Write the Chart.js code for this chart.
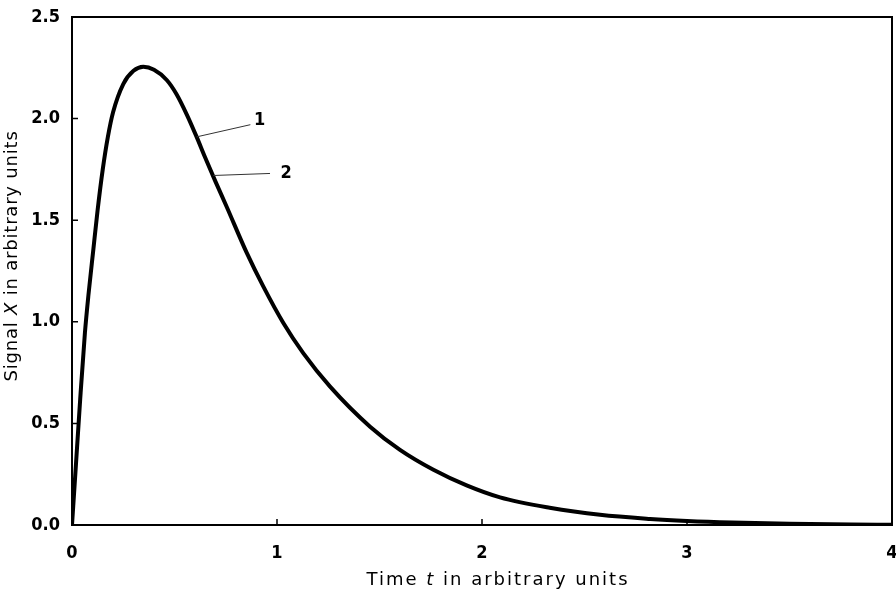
<!DOCTYPE html>
<html>
<head>
<meta charset="utf-8">
<script src="https://cdn.jsdelivr.net/npm/chart.js@4.4.1/dist/chart.umd.min.js"></script>
<style>
  html, body { margin: 0; padding: 0; background: #fff; }
  #wrap { width: 896px; height: 595px; }
</style>
</head>
<body>
<div id="wrap"><canvas id="chart"></canvas></div>
<script>
// Signal X vs time t — curves 1 and 2 (practically coincide)

const timeValues = [0, 0.02, 0.04, 0.063, 0.08, 0.104, 0.125, 0.15, 0.175, 0.2, 0.25, 0.3, 0.348, 0.4, 0.462, 0.51, 0.56, 0.608, 0.649, 0.7, 0.755, 0.852, 0.933, 1.031, 1.128, 1.259, 1.454, 1.6, 1.763, 1.925, 2.088, 2.33, 2.576, 2.82, 3.0, 3.22, 3.5, 3.8, 4.0];
const signalValues = [0, 0.31, 0.62, 0.945, 1.13, 1.355, 1.55, 1.75, 1.91, 2.03, 2.17, 2.235, 2.255, 2.24, 2.19, 2.12, 2.02, 1.91, 1.81, 1.69, 1.565, 1.34, 1.174, 0.994, 0.846, 0.681, 0.484, 0.37, 0.272, 0.195, 0.136, 0.085, 0.05, 0.03, 0.02, 0.012, 0.006, 0.002, 0.001];

const xTicks = [0, 1, 2, 3, 4];
const yTicks = [0, 0.5, 1.0, 1.5, 2.0, 2.5];

// curve labels: text, point on curve, end of leader line, text position (data units)
const curveLabels = ['1', '2'];
const labelAnchors = [[0.608, 1.91], [0.689, 1.72]];
const labelLineEnds = [[0.87, 1.97], [0.966, 1.73]];
const labelTextPos = [[0.915, 1.99], [1.044, 1.73]];

const TICK_FONT = { family: "'DejaVu Sans Condensed', 'DejaVu Sans', sans-serif", size: 18, weight: 'bold' };
const TITLE_FONT = "18px 'DejaVu Sans', sans-serif";

const points = timeValues.map((t, i) => ({ x: t, y: signalValues[i] }));

const frameAndLabels = {
  id: 'frameAndLabels',
  afterDraw(chart) {
    const { ctx, chartArea: a, scales: { x, y } } = chart;
    ctx.save();
    // frame
    ctx.strokeStyle = '#000';
    ctx.lineWidth = 2;
    ctx.strokeRect(a.left, a.top, a.right - a.left, a.bottom - a.top);
    // inward ticks
    ctx.lineWidth = 1.5;
    ctx.beginPath();
    xTicks.forEach(v => {
      const px = x.getPixelForValue(v);
      ctx.moveTo(px, a.bottom); ctx.lineTo(px, a.bottom - 6);
    });
    yTicks.forEach(v => {
      const py = y.getPixelForValue(v);
      ctx.moveTo(a.left, py); ctx.lineTo(a.left + 6, py);
    });
    ctx.stroke();
    // leader lines and curve numbers
    ctx.lineWidth = 1;
    ctx.strokeStyle = '#333';
    ctx.fillStyle = '#000';
    ctx.font = "bold " + TICK_FONT.size + "px " + TICK_FONT.family;
    ctx.textAlign = 'center';
    ctx.textBaseline = 'middle';
    curveLabels.forEach((txt, i) => {
      ctx.beginPath();
      ctx.moveTo(x.getPixelForValue(labelAnchors[i][0]), y.getPixelForValue(labelAnchors[i][1]));
      ctx.lineTo(x.getPixelForValue(labelLineEnds[i][0]), y.getPixelForValue(labelLineEnds[i][1]));
      ctx.stroke();
      ctx.fillText(txt, x.getPixelForValue(labelTextPos[i][0]), y.getPixelForValue(labelTextPos[i][1]));
    });
    // axis titles with italic symbols
    const drawParts = (parts, cx, cy, rot, spacing) => {
      ctx.save();
      ctx.translate(cx, cy);
      ctx.rotate(rot);
      ctx.textAlign = 'left';
      ctx.textBaseline = 'middle';
      ctx.letterSpacing = spacing;
      let total = 0;
      parts.forEach(p => { ctx.font = (p.italic ? 'italic ' : '') + TITLE_FONT; total += ctx.measureText(p.text).width; });
      let pos = -total / 2;
      parts.forEach(p => {
        ctx.font = (p.italic ? 'italic ' : '') + TITLE_FONT;
        ctx.fillText(p.text, pos, 0);
        pos += ctx.measureText(p.text).width;
      });
      ctx.restore();
    };
    drawParts([{ text: 'Time ' }, { text: 't', italic: true }, { text: ' in arbitrary units' }], 498, 580, 0, '2px');
    drawParts([{ text: 'Signal ' }, { text: 'X', italic: true }, { text: ' in arbitrary units' }], 12, 256, -Math.PI / 2, '0.8px');
    ctx.restore();
  }
};

new Chart(document.getElementById('chart'), {
  type: 'line',
  data: {
    datasets: [{
      label: 'Curve 1',
      data: points,
      borderColor: '#000',
      borderWidth: 4,
      pointRadius: 0,
      fill: false,
      cubicInterpolationMode: 'monotone',
    }],
  },
  options: {
    responsive: true,
    maintainAspectRatio: false,
    animation: false,
    layout: { padding: { top: 17, right: 4, left: 0, bottom: 0 } },
    plugins: { legend: { display: false }, tooltip: { enabled: false } },
    scales: {
      x: {
        type: 'linear',
        min: 0, max: 4,
        afterBuildTicks: s => { s.ticks = xTicks.map(v => ({ value: v })); },
        afterFit: s => { s.height = 70; s.paddingLeft = 0; s.paddingRight = 0; },
        grid: { display: false, drawTicks: false },
        border: { display: false },
        ticks: { color: '#000', font: TICK_FONT, padding: 18, maxRotation: 0, callback: v => String(v) },
      },
      y: {
        min: 0, max: 2.5,
        afterBuildTicks: s => { s.ticks = yTicks.map(v => ({ value: v })); },
        afterFit: s => { s.width = 72; s.paddingTop = 0; s.paddingBottom = 0; },
        grid: { display: false, drawTicks: false },
        border: { display: false },
        ticks: { color: '#000', font: TICK_FONT, padding: 12, callback: v => v.toFixed(1) },
      },
    },
  },
  plugins: [frameAndLabels],
});
</script>
</body>
</html>
